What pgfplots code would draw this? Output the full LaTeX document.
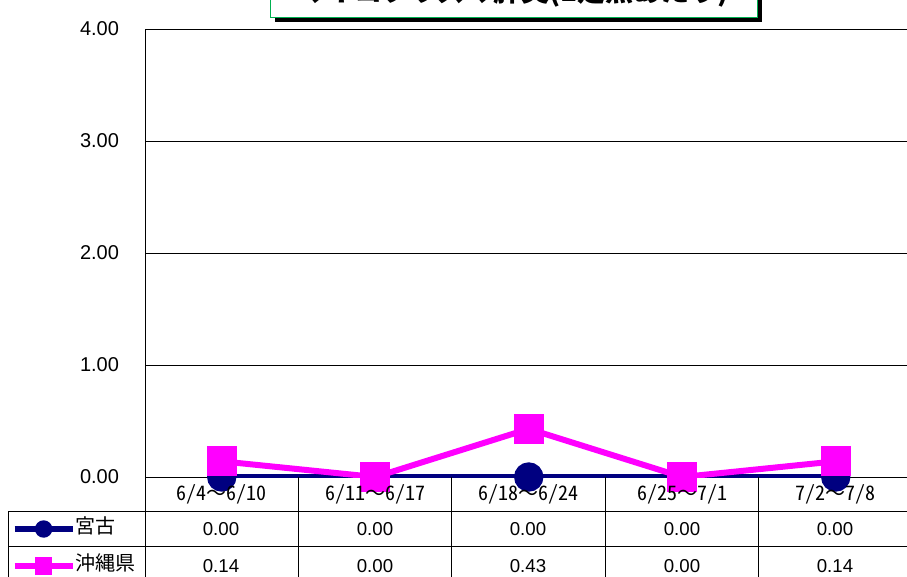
\documentclass[border=0pt]{standalone}
\usepackage{pgfplots}
\pgfplotsset{compat=1.18}
\usepackage{fontspec}
\setmainfont{Liberation Sans}
\newfontfamily\cjk{Noto Sans CJK JP}
\newfontfamily\cjkhalf[CharacterWidth=Half]{Noto Sans CJK JP}
\newcommand\wv{{\cjk 〜}}
\definecolor{navy}{RGB}{0,0,128}
\definecolor{mag}{RGB}{255,0,255}
\definecolor{tgreen}{RGB}{0,176,80}
\begin{document}
\begin{tikzpicture}
\begin{scope}[x=0.75pt,y=-0.75pt]
% title box (mostly cut off at the top)
\fill[black] (275,-20) rectangle (762,22);
\draw[tgreen, fill=white, line width=0.75pt] (270,-25) rectangle (757,17);
\node[font=\cjk\bfseries\fontsize{21}{21}\selectfont] at (513.5,-8) {マイコプラズマ肺炎(1定点あたり)};
\end{scope}
\begin{axis}[
  at={(108.75pt,-357.75pt)}, anchor=south west, scale only axis,
  width=575.625pt, height=336pt,
  xmin=-0.5, xmax=4.5, ymin=0, ymax=4,
  ytick={0,1,2,3,4},
  xtick={0,1,2,3,4},
  xticklabels={},
  major tick length=0pt,
  ymajorgrids, grid style={black, line width=0.75pt},
  axis x line*=bottom, axis y line*=left,
  axis line style={black, line width=0.75pt},
  /pgf/number format/assume math mode=true,
  yticklabel style={font=\fontsize{15}{15}\selectfont, anchor=east, xshift=-16pt,
    /pgf/number format/fixed, /pgf/number format/fixed zerofill, /pgf/number format/precision=2},
  legend style={at={(axis description cs:-0.1733,-0.09375)}, anchor=north west,
    draw=none, fill=none, inner sep=0pt, outer sep=0pt, row sep=12.75pt,
    nodes={inner sep=0pt, text height=11pt, text depth=4pt, font=\cjk\fontsize{15}{15}\selectfont}},
  legend cell align=left,
  legend image code/.code={\draw[mark repeat=2, mark phase=2, #1, line width=4pt, mark size=4.5pt]
     plot coordinates {(0pt,0pt) (21.75pt,0pt) (43.5pt,0pt)};},
]
\addplot[navy, line width=4pt, mark=*, mark size=9pt, mark options={solid, fill=navy}]
  coordinates {(0,0) (1,0) (2,0) (3,0) (4,0)};
\addlegendentry{宮古}
\addplot[mag, line width=4.5pt, mark=square*, mark size=9pt, mark options={solid, fill=mag}]
  coordinates {(0,0.14) (1,0) (2,0.43) (3,0) (4,0.14)};
\addlegendentry{沖縄県}
\end{axis}
\begin{scope}[x=0.75pt,y=-0.75pt]
% data table
\draw[line width=0.75pt] (145,477) -- (145,580);
\foreach \xx in {298,451,605,758} {\draw[line width=0.75pt] (\xx,477) -- (\xx,580);}
\draw[line width=0.75pt] (8,511) -- (8,580);
\draw[line width=0.75pt] (8,511) -- (912,511);
\draw[line width=0.75pt] (8,546) -- (912,546);
\foreach \xx/\a/\b in {221/{6/4}/{6/10},375/{6/11}/{6/17},528/{6/18}/{6/24},682/{6/25}/{7/1},835/{7/2}/{7/8}}
  {\node[font=\cjkhalf\fontsize{15}{15}\selectfont] at (\xx,494) {\a\wv\b};}
\foreach \xx/\v in {221/0.00,375/0.00,528/0.00,682/0.00,835/0.00}
  {\node[font=\fontsize{14}{14}\selectfont] at (\xx,529) {\v};}
\foreach \xx/\v in {221/0.14,375/0.00,528/0.43,682/0.00,835/0.14}
  {\node[font=\fontsize{14}{14}\selectfont] at (\xx,566) {\v};}
\pgfresetboundingbox
\path[use as bounding box] (0,0) rectangle (907,576);
\end{scope}
\end{tikzpicture}
\end{document}
